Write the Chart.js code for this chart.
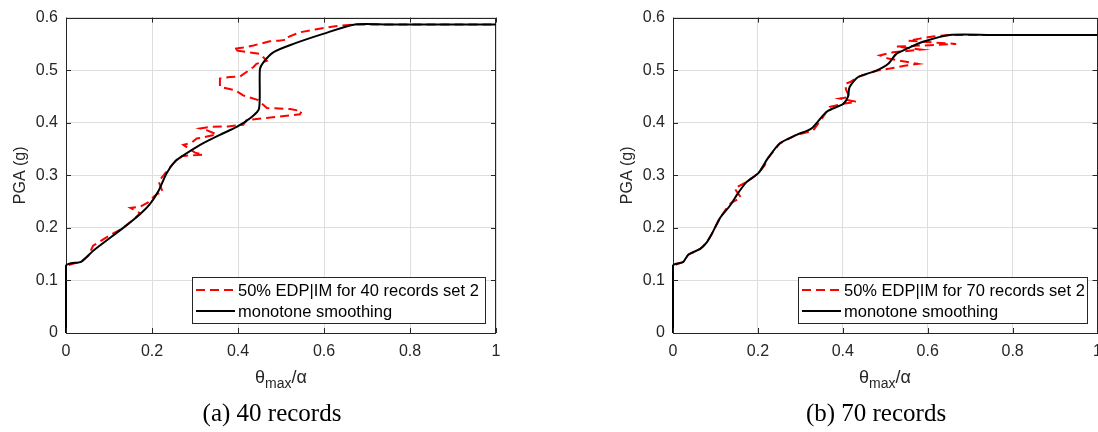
<!DOCTYPE html>
<html>
<head>
<meta charset="utf-8">
<script src="https://cdn.jsdelivr.net/npm/chart.js@4.4.1/dist/chart.umd.min.js"></script>
<style>
  html { overflow: hidden; }
  body { margin: 0; width: 1098px; height: 432px; background: #fff; overflow: hidden; position: relative; }
  .box { position: absolute; top: 0; }
  .xtitle { position: absolute; top: 367px; font-family: "Liberation Sans Narrow", "Liberation Sans", sans-serif; font-size: 18px; color: #262626; transform: translateX(-50%); white-space: nowrap; }
  .xtitle sub { font-size: 14px; }
  .caption { position: absolute; top: 399px; font-family: "Liberation Serif", serif; font-size: 25px; color: #000; transform: translateX(-50%); white-space: nowrap; }
</style>
</head>
<body>
<div class="box" style="left:0;width:520px;height:400px"><canvas id="grafico40" width="520" height="400"></canvas></div>
<div class="box" style="left:607px;width:504px;height:400px"><canvas id="grafico70" width="504" height="400"></canvas></div>
<div class="xtitle" style="left:281px">θ<sub>max</sub>/α</div>
<div class="xtitle" style="left:885px">θ<sub>max</sub>/α</div>
<div class="caption" style="left:272px">(a) 40 records</div>
<div class="caption" style="left:876px">(b) 70 records</div>
<script>
// ejes
const xTicks = [0, 0.2, 0.4, 0.6, 0.8, 1];
const yTicks = [0, 0.1, 0.2, 0.3, 0.4, 0.5, 0.6];

// 40 registros: mediana EDP|IM (rojo) y suavizado monotono (negro)
const edp40X = [0, 0, 0.036, 0.052, 0.063, 0.071, 0.10, 0.133, 0.16, 0.172, 0.15, 0.172, 0.19, 0.205, 0.213, 0.225, 0.215, 0.222, 0.238, 0.25, 0.269, 0.288, 0.319, 0.30, 0.273, 0.292, 0.304, 0.319, 0.35, 0.327, 0.312, 0.335, 0.377, 0.412, 0.42, 0.544, 0.548, 0.521, 0.467, 0.447, 0.412, 0.393, 0.358, 0.358, 0.381, 0.405, 0.436, 0.443, 0.467, 0.451, 0.40, 0.389, 0.412, 0.436, 0.474, 0.494, 0.513, 0.513, 0.544, 0.583, 0.63, 0.672, 1];
const edp40Y = [0, 0.128, 0.136, 0.147, 0.166, 0.170, 0.185, 0.20, 0.218, 0.228, 0.238, 0.24, 0.248, 0.26, 0.265, 0.268, 0.289, 0.295, 0.311, 0.323, 0.336, 0.338, 0.339, 0.343, 0.358, 0.362, 0.370, 0.372, 0.378, 0.386, 0.389, 0.392, 0.393, 0.396, 0.405, 0.416, 0.422, 0.426, 0.428, 0.443, 0.452, 0.462, 0.468, 0.484, 0.487, 0.488, 0.506, 0.512, 0.518, 0.531, 0.537, 0.540, 0.543, 0.547, 0.555, 0.556, 0.558, 0.562, 0.572, 0.578, 0.584, 0.587, 0.587];
const suave40X = [0, 0, 0.036, 0.064, 0.133, 0.172, 0.195, 0.215, 0.234, 0.253, 0.273, 0.312, 0.358, 0.397, 0.432, 0.449, 0.451, 0.459, 0.482, 0.529, 0.598, 0.672, 0.75, 1];
const suave40Y = [0, 0.128, 0.136, 0.157, 0.20, 0.226, 0.245, 0.27, 0.304, 0.326, 0.338, 0.358, 0.377, 0.392, 0.411, 0.427, 0.502, 0.515, 0.534, 0.55, 0.569, 0.587, 0.587, 0.587];

// 70 registros
const edp70X = [0, 0, 0.024, 0.036, 0.064, 0.079, 0.091, 0.111, 0.13, 0.138, 0.16, 0.145, 0.154, 0.173, 0.201, 0.215, 0.224, 0.252, 0.291, 0.33, 0.362, 0.369, 0.401, 0.432, 0.393, 0.416, 0.408, 0.405, 0.416, 0.436, 0.479, 0.511, 0.549, 0.577, 0.507, 0.487, 0.518, 0.585, 0.526, 0.62, 0.667, 0.608, 0.554, 0.581, 0.612, 0.652, 1];
const edp70Y = [0, 0.128, 0.135, 0.149, 0.16, 0.172, 0.188, 0.219, 0.242, 0.248, 0.258, 0.275, 0.279, 0.287, 0.304, 0.318, 0.333, 0.361, 0.377, 0.385, 0.421, 0.43, 0.436, 0.440, 0.446, 0.449, 0.462, 0.474, 0.477, 0.487, 0.499, 0.503, 0.509, 0.512, 0.522, 0.528, 0.534, 0.539, 0.545, 0.548, 0.550, 0.553, 0.556, 0.560, 0.564, 0.567, 0.567];
const suave70X = [0, 0, 0.024, 0.036, 0.064, 0.079, 0.091, 0.111, 0.134, 0.154, 0.173, 0.201, 0.224, 0.252, 0.291, 0.326, 0.362, 0.401, 0.412, 0.416, 0.436, 0.479, 0.507, 0.526, 0.549, 0.589, 0.652, 0.75, 1];
const suave70Y = [0, 0.128, 0.135, 0.149, 0.16, 0.172, 0.188, 0.219, 0.242, 0.267, 0.287, 0.304, 0.333, 0.361, 0.377, 0.389, 0.421, 0.436, 0.449, 0.468, 0.487, 0.499, 0.512, 0.531, 0.540, 0.554, 0.567, 0.567, 0.567];

const colorTexto = "#262626";

function puntos(xs, ys) {
  return xs.map((x, i) => ({ x: x, y: ys[i] }));
}

// caja, marcas hacia dentro y leyenda dentro del area
const cajaMatlab = {
  id: "cajaMatlab",
  beforeDatasetsDraw(chart) {
    const ctx = chart.ctx;
    const a = chart.chartArea;
    ctx.save();
    ctx.strokeStyle = colorTexto;
    ctx.lineWidth = 1;
    ctx.strokeRect(Math.round(a.left) + 0.5, Math.round(a.top) + 0.5, Math.round(a.right - a.left) - 1, Math.round(a.bottom - a.top));
    ctx.restore();
  },
  afterDraw(chart, args, opts) {
    const ctx = chart.ctx;
    const a = chart.chartArea;
    const sx = chart.scales.x, sy = chart.scales.y;
    ctx.save();
    ctx.strokeStyle = colorTexto;
    ctx.lineWidth = 1;
    ctx.beginPath();
    xTicks.forEach((v) => {
      const px = Math.round(sx.getPixelForValue(v)) + 0.5;
      ctx.moveTo(px, a.bottom); ctx.lineTo(px, a.bottom - 5);
      ctx.moveTo(px, a.top); ctx.lineTo(px, a.top + 5);
    });
    yTicks.forEach((v) => {
      const py = Math.round(sy.getPixelForValue(v)) + 0.5;
      ctx.moveTo(a.left, py); ctx.lineTo(a.left + 5, py);
      ctx.moveTo(a.right, py); ctx.lineTo(a.right - 5, py);
    });
    ctx.stroke();

    // leyenda
    const w = opts.width, h = 46;
    const x0 = Math.round(a.right - 11 - w), y0 = Math.round(a.bottom - 10 - h);
    ctx.fillStyle = "#fff";
    ctx.fillRect(x0, y0, w, h);
    ctx.strokeStyle = "#262626";
    ctx.strokeRect(x0 + 0.5, y0 + 0.5, w, h);
    ctx.font = "16.5px 'Liberation Sans', Arial, sans-serif";
    ctx.textBaseline = "middle";
    chart.data.datasets.forEach((ds, i) => {
      const yy = y0 + 13 + i * 21;
      ctx.strokeStyle = ds.borderColor;
      ctx.lineWidth = 2;
      ctx.setLineDash(ds.borderDash || []);
      ctx.beginPath();
      ctx.moveTo(x0 + 4, yy); ctx.lineTo(x0 + 43, yy);
      ctx.stroke();
      ctx.setLineDash([]);
      ctx.fillStyle = "#000";
      ctx.fillText(ds.label, x0 + 46, yy + 1);
    });
    ctx.restore();
  },
};

function crearGrafico(id, rojoX, rojoY, negroX, negroY, nombre, anchoLeyenda, padDer) {
  const ctx = document.getElementById(id).getContext("2d");
  new Chart(ctx, {
    type: "line",
    data: {
      datasets: [
        {
          label: nombre,
          data: puntos(rojoX, rojoY),
          borderColor: "#ff0000",
          borderWidth: 2,
          borderDash: [9, 5],
          pointRadius: 0,
          tension: 0,
          clip: 3,
          order: 1,
        },
        {
          label: "monotone smoothing",
          data: puntos(negroX, negroY),
          borderColor: "#000000",
          borderWidth: 2,
          pointRadius: 0,
          tension: 0.25,
          clip: 3,
          order: 0,
        },
      ],
    },
    options: {
      responsive: false,
      animation: false,
      events: [],
      layout: { autoPadding: false, padding: { left: 0, top: 15, right: padDer, bottom: 0 } },
      plugins: {
        legend: { display: false },
        tooltip: { enabled: false },
        cajaMatlab: { width: anchoLeyenda },
      },
      scales: {
        x: {
          type: "linear",
          min: 0,
          max: 1,
          afterFit: (s) => { s.height = 67; },
          afterBuildTicks: (s) => { s.ticks = xTicks.map((v) => ({ value: v })); },
          grid: { color: "#dedede", drawTicks: false },
          border: { display: false },
          ticks: {
            padding: 9,
            color: colorTexto,
            font: { family: "'Liberation Sans Narrow', 'Liberation Sans'", size: 16 },
            callback: (v) => (v === 0 || v === 1 ? String(v) : v.toFixed(1)),
          },
        },
        y: {
          min: 0,
          max: 0.6,
          afterFit: (s) => { s.width = 66; },
          afterBuildTicks: (s) => { s.ticks = yTicks.map((v) => ({ value: v })); },
          grid: { color: "#dedede", drawTicks: false },
          border: { display: false },
          title: {
            display: true,
            text: "PGA (g)",
            color: colorTexto,
            padding: { top: 11, bottom: 0 },
            font: { family: "'Liberation Sans', Arial", size: 16 },
          },
          ticks: {
            padding: 8,
            color: colorTexto,
            font: { family: "'Liberation Sans Narrow', 'Liberation Sans'", size: 16 },
            callback: (v) => (v === 0 ? "0" : v.toFixed(1)),
          },
        },
      },
    },
    plugins: [cajaMatlab],
  });
}

crearGrafico("grafico40", edp40X, edp40Y, suave40X, suave40Y, "50% EDP|IM for 40 records set 2", 293, 24);
crearGrafico("grafico70", edp70X, edp70Y, suave70X, suave70Y, "50% EDP|IM for 70 records set 2", 289, 0);
</script>
</body>
</html>
